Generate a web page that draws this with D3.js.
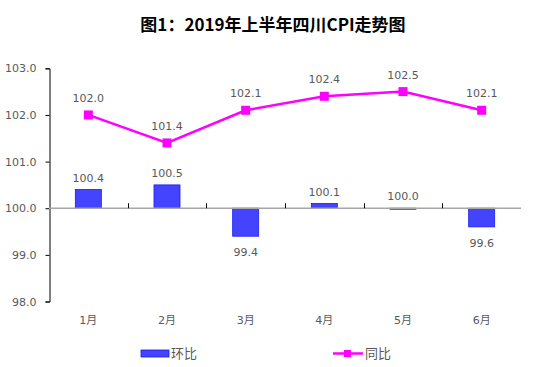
<!DOCTYPE html>
<html>
<head>
<meta charset="utf-8">
<script src="https://cdn.jsdelivr.net/npm/d3@7"></script>
<style>
body{margin:0;background:#fff;}
text{font-family:"DejaVu Sans","Noto Sans CJK SC",sans-serif;}
</style>
</head>
<body>
<script>
// data
const months = ["1月","2月","3月","4月","5月","6月"];
const huanbi = [100.4,100.5,99.4,100.1,100.0,99.6];   // bars
const tongbi = [102.0,101.4,102.1,102.4,102.5,102.1]; // line
const yTicks = [98,99,100,101,102,103];

const W = 534, H = 367;
const svg = d3.select("body").append("svg")
	.attr("width",W)
	.attr("height",H);

const x = d3.scaleBand().domain(months).range([49,521]);
const y = d3.scaleLinear().domain([98,103]).range([301.5,68.3]);

// title
svg.append("text")
	.attr("x",273).attr("y",31)
	.attr("text-anchor","middle")
	.style("font-family","'Noto Sans CJK SC',sans-serif")
	.style("font-weight","bold")
	.style("font-size","17px")
	.attr("fill","#000")
	.text("图1：2019年上半年四川CPI走势图");

// y axis
const yAxis = svg.append("g")
	.attr("transform","translate(49.5,0)")
	.call(d3.axisLeft(y).tickValues(yTicks).tickSize(4).tickFormat(d3.format(".1f")));
yAxis.select(".domain").attr("stroke","#000");
yAxis.selectAll(".tick line").attr("stroke","#000");
yAxis.selectAll(".tick text")
	.attr("x",-13)
	.attr("fill","#595959")
	.style("font-size","11px")
	.style("font-family","DejaVu Sans");

// bars
svg.append("g").selectAll("rect")
	.data(huanbi)
	.join("rect")
	.attr("x",function(d,i){ return x(months[i]) + x.bandwidth()/2 - 13; })
	.attr("y",function(d){ return Math.min(y(d),y(100)); })
	.attr("width",26)
	.attr("height",function(d){ return Math.max(1,Math.abs(y(d)-y(100))); })
	.attr("fill","#4444ff")
	.attr("stroke","#1a1aee")
	.attr("stroke-width",0.8);

// x axis at 100
const xAxis = svg.append("g")
	.attr("transform","translate(0,"+y(100)+")");
xAxis.append("line")
	.attr("x1",49).attr("x2",521)
	.attr("stroke","#a6a6a6")
	.attr("stroke-width",1.5);
xAxis.selectAll("line.tk")
	.data(months.slice(1))
	.join("line")
	.attr("class","tk")
	.attr("x1",function(d){ return Math.round(x(d))+0.5; })
	.attr("x2",function(d){ return Math.round(x(d))+0.5; })
	.attr("y1",0).attr("y2",-5)
	.attr("stroke","#000");

// month labels
svg.append("g").selectAll("text")
	.data(months)
	.join("text")
	.attr("x",function(d){ return x(d)+x.bandwidth()/2; })
	.attr("y",324)
	.attr("text-anchor","middle")
	.attr("fill","#595959")
	.style("font-size","11px")
	.style("font-family","'DejaVu Sans','Noto Sans CJK SC'")
	.text(function(d){ return d; });

// bar labels
svg.append("g").selectAll("text")
	.data(huanbi)
	.join("text")
	.attr("x",function(d,i){ return x(months[i])+x.bandwidth()/2; })
	.attr("y",function(d){ return d>=100 ? y(d)-8 : y(d)+20; })
	.attr("text-anchor","middle")
	.attr("fill","#595959")
	.style("font-size","11px")
	.text(function(d){ return d.toFixed(1); });

// line
const line = d3.line()
	.x(function(d,i){ return x(months[i])+x.bandwidth()/2; })
	.y(function(d){ return y(d); });
svg.append("path")
	.datum(tongbi)
	.attr("d",line)
	.attr("fill","none")
	.attr("stroke","#ff00ff")
	.attr("stroke-width",2.5);
svg.append("g").selectAll("rect")
	.data(tongbi)
	.join("rect")
	.attr("x",function(d,i){ return x(months[i])+x.bandwidth()/2-4.5; })
	.attr("y",function(d){ return y(d)-4.5; })
	.attr("width",9).attr("height",9)
	.attr("fill","#ff00ff");
svg.append("g").selectAll("text")
	.data(tongbi)
	.join("text")
	.attr("x",function(d,i){ return x(months[i])+x.bandwidth()/2; })
	.attr("y",function(d){ return y(d)-13; })
	.attr("text-anchor","middle")
	.attr("fill","#595959")
	.style("font-size","11px")
	.text(function(d){ return d.toFixed(1); });

// legend
const leg = svg.append("g");
leg.append("rect")
	.attr("x",141).attr("y",350)
	.attr("width",28).attr("height",7)
	.attr("fill","#4444ff").attr("stroke","#1a1aee").attr("stroke-width",0.8);
leg.append("text")
	.attr("x",171).attr("y",358)
	.attr("fill","#595959")
	.style("font-size","13px")
	.style("font-family","'Noto Sans CJK SC'")
	.text("环比");
leg.append("line")
	.attr("x1",333).attr("x2",363).attr("y1",353.5).attr("y2",353.5)
	.attr("stroke","#ff00ff").attr("stroke-width",2.5);
leg.append("rect")
	.attr("x",344).attr("y",350).attr("width",7).attr("height",7)
	.attr("fill","#ff00ff");
leg.append("text")
	.attr("x",365).attr("y",358)
	.attr("fill","#595959")
	.style("font-size","13px")
	.style("font-family","'Noto Sans CJK SC'")
	.text("同比");
</script>
</body>
</html>
